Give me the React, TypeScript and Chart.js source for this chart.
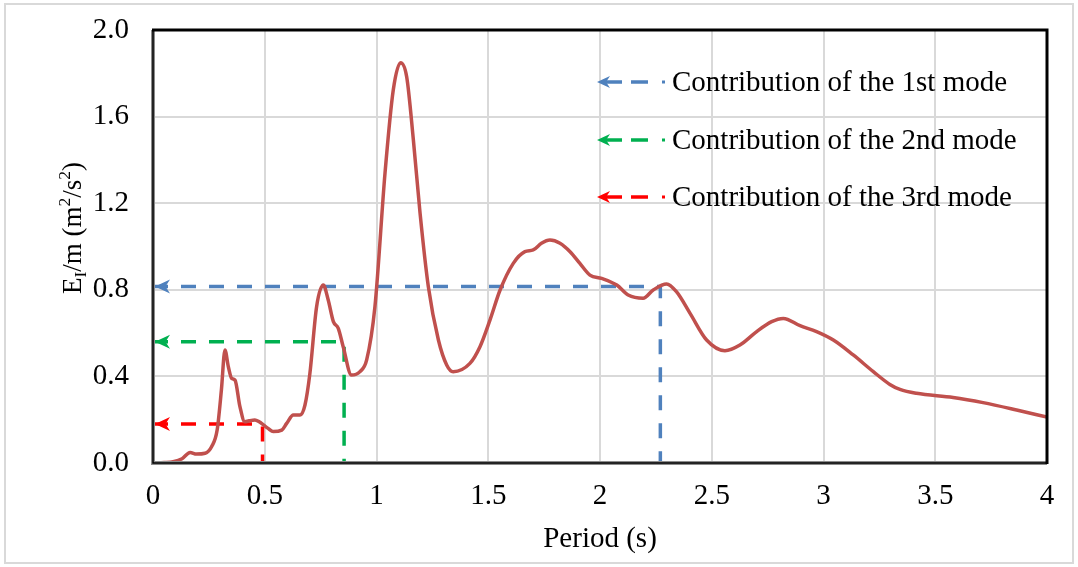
import React, { useEffect, useRef } from 'react';
import { Chart, registerables } from 'chart.js';

Chart.register(...registerables);

// ---- Data ----
const periods = [
  0, 0.05, 0.09, 0.13, 0.166, 0.195, 0.233, 0.262, 0.287, 0.306, 0.322, 0.337, 0.352, 0.367,
  0.389, 0.411, 0.43, 0.456, 0.475, 0.494, 0.515, 0.538, 0.576, 0.598, 0.628, 0.658, 0.68,
  0.702, 0.732, 0.762, 0.784, 0.807, 0.829, 0.851, 0.888, 0.926, 0.956, 0.993, 1.038, 1.075,
  1.108, 1.135, 1.165, 1.195, 1.232, 1.277, 1.314, 1.343, 1.418, 1.463, 1.508, 1.553, 1.612,
  1.664, 1.701, 1.738, 1.776, 1.821, 1.866, 1.91, 1.955, 2.007, 2.075, 2.126, 2.193, 2.238,
  2.298, 2.342, 2.403, 2.477, 2.559, 2.626, 2.701, 2.768, 2.82, 2.895, 2.969, 3.044, 3.133,
  3.223, 3.297, 3.342, 3.416, 3.58, 3.714, 3.864, 4.0,
];
const energy = [
  0, 0.002, 0.006, 0.02, 0.049, 0.041, 0.045, 0.075, 0.152, 0.337, 0.522, 0.445, 0.391, 0.383,
  0.26, 0.19, 0.195, 0.199, 0.19, 0.176, 0.16, 0.145, 0.152, 0.183, 0.222, 0.222, 0.268,
  0.414, 0.722, 0.822, 0.753, 0.653, 0.622, 0.537, 0.406, 0.422, 0.476, 0.722, 1.338, 1.723,
  1.849, 1.784, 1.492, 1.153, 0.814, 0.568, 0.453, 0.422, 0.46, 0.537, 0.661, 0.799, 0.922,
  0.976, 0.984, 1.015, 1.03, 1.015, 0.976, 0.922, 0.868, 0.853, 0.822, 0.776, 0.761, 0.799,
  0.827, 0.791, 0.691, 0.568, 0.519, 0.545, 0.607, 0.653, 0.668, 0.634, 0.607, 0.568, 0.499,
  0.422, 0.363, 0.34, 0.322, 0.303, 0.279, 0.245, 0.212,
];

const modeLabels = [
  'Contribution of the 1st mode',
  'Contribution of the 2nd mode',
  'Contribution of the 3rd mode',
];
const modePeriods = [2.27, 0.855, 0.49];
const modeValues = [0.815, 0.56, 0.18];

const xTickLabels = ['0', '0.5', '1', '1.5', '2', '2.5', '3', '3.5', '4'];
const yTickLabels = ['0.0', '0.4', '0.8', '1.2', '1.6', '2.0'];

// ---- Styles ----
const FONT = "'Liberation Serif', 'Times New Roman', serif";
const curveColor = '#C0504D';
const modeColors = ['#4F81BD', '#00B050', '#FF0000'];
const gridColor = '#d9d9d9';

function stealthArrow(ctx: CanvasRenderingContext2D, tipX: number, y: number, len: number, half: number, color: string) {
  ctx.save();
  ctx.fillStyle = color;
  ctx.beginPath();
  ctx.moveTo(tipX, y);
  ctx.lineTo(tipX + len, y - half);
  ctx.lineTo(tipX + len * 0.7, y);
  ctx.lineTo(tipX + len, y + half);
  ctx.closePath();
  ctx.fill();
  ctx.restore();
}

const decorPlugin = {
  id: 'decor',
  beforeDraw(chart: any) {
    const ctx = chart.ctx as CanvasRenderingContext2D;
    ctx.save();
    ctx.fillStyle = '#fff';
    ctx.fillRect(0, 0, chart.width, chart.height);
    ctx.strokeStyle = '#d9d9d9';
    ctx.lineWidth = 2;
    ctx.strokeRect(5, 4, chart.width - 10, chart.height - 8);
    ctx.restore();
  },
  afterDatasetsDraw(chart: any) {
    const ctx = chart.ctx as CanvasRenderingContext2D;
    const xs = chart.scales.x;
    const ys = chart.scales.y;
    modeValues.forEach((v, i) => {
      const px = xs.getPixelForValue(0);
      const py = ys.getPixelForValue(v);
      stealthArrow(ctx, px + 2, py, 15, 7, modeColors[i]);
    });
  },
  afterDraw(chart: any) {
    const ctx = chart.ctx as CanvasRenderingContext2D;
    const a = chart.chartArea;
    ctx.save();
    // plot border
    ctx.strokeStyle = '#8c8c8c';
    ctx.lineWidth = 4;
    ctx.beginPath();
    ctx.moveTo(a.left, a.top);
    ctx.lineTo(a.left, a.bottom);
    ctx.lineTo(a.right, a.bottom);
    ctx.stroke();
    ctx.strokeStyle = '#000';
    ctx.lineWidth = 1.5;
    ctx.beginPath();
    ctx.moveTo(a.left, a.top);
    ctx.lineTo(a.left, a.bottom);
    ctx.lineTo(a.right, a.bottom);
    ctx.stroke();
    ctx.lineWidth = 3;
    ctx.beginPath();
    ctx.moveTo(a.left - 1, a.top);
    ctx.lineTo(a.right, a.top);
    ctx.lineTo(a.right, a.bottom + 1);
    ctx.stroke();

    // legend
    const rows = [82, 140, 197];
    ctx.font = `29px ${FONT}`;
    ctx.textBaseline = 'middle';
    ctx.textAlign = 'left';
    modeLabels.forEach((lab, i) => {
      const y = rows[i];
      const c = modeColors[i];
      stealthArrow(ctx, 597, y, 13, 6, c);
      ctx.strokeStyle = c;
      ctx.lineWidth = 3.5;
      ctx.beginPath();
      ctx.moveTo(606, y);
      ctx.lineTo(622, y);
      ctx.moveTo(631, y);
      ctx.lineTo(648, y);
      ctx.stroke();
      ctx.fillStyle = c;
      ctx.fillRect(662, y - 1.5, 3, 3);
      ctx.fillStyle = '#000';
      ctx.fillText(lab, 672, y + 1);
    });

    // y-axis title with sub/superscripts
    const size = 27;
    const parts = [
      { t: 'E', s: 1, dy: 0 },
      { t: 'I', s: 0.65, dy: 0.2 },
      { t: '/m (m', s: 1, dy: 0 },
      { t: '2', s: 0.65, dy: -0.4 },
      { t: '/s', s: 1, dy: 0 },
      { t: '2', s: 0.65, dy: -0.4 },
      { t: ')', s: 1, dy: 0 },
    ];
    let total = 0;
    const widths = parts.map((p) => {
      ctx.font = `${size * p.s}px ${FONT}`;
      const w = ctx.measureText(p.t).width;
      total += w;
      return w;
    });
    ctx.translate(81, 228);
    ctx.rotate(-Math.PI / 2);
    ctx.textBaseline = 'alphabetic';
    ctx.fillStyle = '#000';
    let x = -total / 2;
    parts.forEach((p, i) => {
      ctx.font = `${size * p.s}px ${FONT}`;
      ctx.fillText(p.t, x, p.dy * size);
      x += widths[i];
    });
    ctx.restore();
  },
};

export default function App() {
  const ref = useRef<HTMLCanvasElement | null>(null);

  useEffect(() => {
    document.body.style.margin = '0';
    const canvas = ref.current;
    if (!canvas) return;
    const chart = new Chart(canvas, {
      type: 'line',
      data: {
        datasets: [
          {
            data: periods.map((p, i) => ({ x: p, y: energy[i] })),
            borderColor: curveColor,
            borderWidth: 3.5,
            pointRadius: 0,
            cubicInterpolationMode: 'monotone',
            fill: false,
          } as any,
          ...modeValues.map((v, i) => ({
            data: [
              { x: 0, y: v },
              { x: modePeriods[i], y: v },
              { x: modePeriods[i], y: 0 },
            ],
            borderColor: modeColors[i],
            borderWidth: 3.5,
            borderDash: [15, 13],
            borderCapStyle: 'butt',
            pointRadius: 0,
            tension: 0,
            fill: false,
          })),
        ],
      },
      options: {
        responsive: false,
        animation: false,
        layout: { padding: { top: 30, right: 31, bottom: 0, left: 0 } },
        plugins: { legend: { display: false }, tooltip: { enabled: false } },
        scales: {
          x: {
            type: 'linear',
            min: 0,
            max: 4,
            ticks: {
              stepSize: 0.5,
              autoSkip: false,
              maxRotation: 0,
              padding: 16,
              color: '#000',
              font: { family: FONT, size: 29 },
              callback: (_v: any, i: number) => xTickLabels[i],
            },
            grid: { color: gridColor, lineWidth: 2, drawTicks: false },
            border: { display: false },
            title: {
              display: true,
              text: 'Period (s)',
              color: '#000',
              font: { family: FONT, size: 29 },
              padding: { top: 0, bottom: 10 },
            },
            afterFit: (s: any) => {
              s.height = 104;
              s.paddingLeft = 0;
              s.paddingRight = 0;
            },
          },
          y: {
            type: 'linear',
            min: 0,
            max: 2,
            ticks: {
              stepSize: 0.4,
              padding: 24,
              color: '#000',
              font: { family: FONT, size: 29 },
              callback: (_v: any, i: number) => yTickLabels[i],
            },
            grid: { color: gridColor, lineWidth: 2, drawTicks: false },
            border: { display: false },
            afterFit: (s: any) => {
              s.width = 153;
              s.paddingTop = 0;
              s.paddingBottom = 0;
            },
          },
        },
      } as any,
      plugins: [decorPlugin],
    });
    return () => chart.destroy();
  }, []);

  return (
    <div style={{ position: 'absolute', left: 0, top: 0, width: 1078, height: 567 }}>
      <canvas ref={ref} width={1078} height={567} style={{ display: 'block' }} />
    </div>
  );
}
